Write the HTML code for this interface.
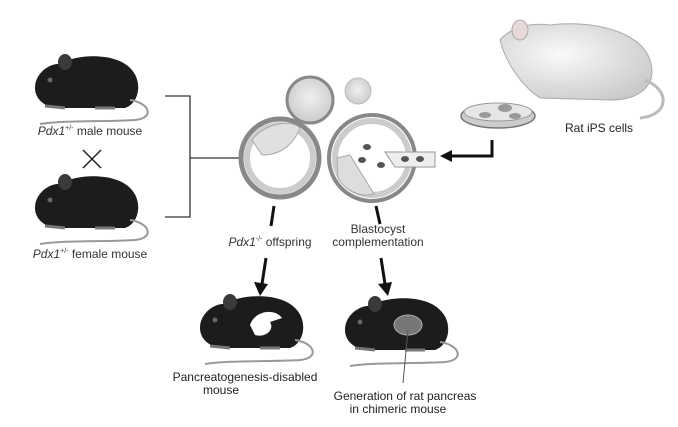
<!DOCTYPE html>
<html><head><style>
body{margin:0;background:#fff;}
svg{display:block;font-family:"Liberation Sans",sans-serif;}
</style></head><body>
<svg width="678" height="427" viewBox="0 0 678 427">
<defs>
<radialGradient id="cell" cx="50%" cy="45%" r="60%"><stop offset="0" stop-color="#f0f0f0"/><stop offset="1" stop-color="#c8c8c8"/></radialGradient>
<radialGradient id="rat" cx="40%" cy="40%" r="70%"><stop offset="0" stop-color="#fafafa"/><stop offset="1" stop-color="#c9c9c9"/></radialGradient>
<g id="mouse">
 <path d="M0,30 C0,15 15,5 25,6 C40,-4 80,-6 95,10 C108,22 105,45 90,50 L20,50 C8,48 0,40 0,30Z" fill="#1c1c1c"/>
 <ellipse cx="30" cy="4" rx="7" ry="8" fill="#3a3a3a"/>
 <circle cx="15" cy="22" r="2.5" fill="#666"/>
 <path d="M95,42 C115,45 120,60 100,62 C70,64 30,62 5,66" stroke="#999" stroke-width="2" fill="none"/>
 <path d="M10,48 L30,50 M60,50 L80,50" stroke="#777" stroke-width="3"/>
</g>
</defs>
<!-- parent mice -->
<use href="#mouse" x="35" y="58"/>
<use href="#mouse" x="35" y="178"/>
<text x="90" y="135" font-size="12" text-anchor="middle" fill="#333"><tspan font-style="italic">Pdx1</tspan><tspan font-size="7" dy="-5">+/-</tspan><tspan dy="5"> male mouse</tspan></text>
<text x="90" y="258" font-size="12" text-anchor="middle" fill="#333"><tspan font-style="italic">Pdx1</tspan><tspan font-size="7" dy="-5">+/-</tspan><tspan dy="5"> female mouse</tspan></text>
<path d="M83,150 L101,168 M101,150 L83,168" stroke="#222" stroke-width="1.5"/>
<path d="M165,96 L190,96 L190,217 L165,217 M190,158 L240,158" stroke="#333" stroke-width="1.3" fill="none"/>
<!-- small spheres -->
<circle cx="310" cy="100" r="23" fill="url(#cell)" stroke="#888" stroke-width="3"/>
<circle cx="358" cy="91" r="13" fill="url(#cell)" stroke="#bbb" stroke-width="1"/>
<!-- left blastocyst -->
<circle cx="280" cy="158" r="39" fill="#fff" stroke="#888" stroke-width="5"/>
<circle cx="280" cy="158" r="33" fill="none" stroke="#ccc" stroke-width="6"/>
<path d="M252,140 C262,125 290,118 300,128 C295,140 285,155 262,155 Z" fill="#e0e0e0" stroke="#aaa"/>
<!-- right blastocyst -->
<circle cx="372" cy="158" r="43" fill="#fff" stroke="#888" stroke-width="4"/>
<circle cx="372" cy="158" r="37" fill="none" stroke="#ccc" stroke-width="6"/>
<path d="M337,158 L350,155 L374,194 C360,198 345,190 338,178 Z" fill="#ddd" stroke="#aaa"/>
<ellipse cx="367" cy="147" rx="4" ry="3" fill="#555"/>
<ellipse cx="362" cy="160" rx="4" ry="3" fill="#555"/>
<ellipse cx="381" cy="165" rx="4" ry="3" fill="#555"/>
<path d="M385,152 L435,152 L435,167 L395,167 Z" fill="#eee" stroke="#999"/>
<ellipse cx="405" cy="159" rx="4" ry="3" fill="#555"/>
<ellipse cx="420" cy="159" rx="4" ry="3" fill="#555"/>
<!-- arrow from rat cells -->
<path d="M492,140 L492,156 L450,156" stroke="#111" stroke-width="3" fill="none"/>
<polygon points="440,156 452,150 452,162" fill="#111"/>
<!-- rat -->
<path d="M500,40 C510,28 530,22 550,25 C590,20 640,30 650,60 C658,85 640,100 610,100 L540,98 C520,85 505,60 500,40Z" fill="url(#rat)" stroke="#aaa"/>
<ellipse cx="520" cy="30" rx="8" ry="10" fill="#e8d8d8" stroke="#aaa"/>
<path d="M645,80 C670,90 670,115 640,118" stroke="#bbb" stroke-width="3" fill="none"/>
<ellipse cx="498" cy="116" rx="37" ry="12" fill="#ccc" stroke="#777" stroke-width="1.5"/>
<ellipse cx="498" cy="112" rx="34" ry="9" fill="#e6e6e6" stroke="#999"/>
<ellipse cx="505" cy="108" rx="7" ry="4" fill="#999"/>
<ellipse cx="485" cy="115" rx="6" ry="3" fill="#999"/>
<ellipse cx="515" cy="116" rx="6" ry="3" fill="#999"/>
<text x="565" y="132" font-size="12" fill="#222">Rat iPS cells</text>
<!-- labels -->
<text x="270" y="246" font-size="12" text-anchor="middle" fill="#333"><tspan font-style="italic">Pdx1</tspan><tspan font-size="7" dy="-5">-/-</tspan><tspan dy="5"> offspring</tspan></text>
<text x="378" y="233" font-size="12" text-anchor="middle" fill="#333">Blastocyst</text>
<text x="378" y="246" font-size="12" text-anchor="middle" fill="#333">complementation</text>
<!-- arrows down -->
<path d="M274,206 L271,226 M266,258 L262,284" stroke="#111" stroke-width="3"/>
<polygon points="260,296 254,282 268,284" fill="#111"/>
<path d="M376,206 L380,224 M381,258 L385,284" stroke="#111" stroke-width="3"/>
<polygon points="388,296 378,284 392,282" fill="#111"/>
<!-- bottom mice -->
<use href="#mouse" x="200" y="298"/>
<path d="M250,325 C255,310 275,308 282,318 L270,322 C275,330 265,338 255,335 Z" fill="#fff"/>
<use href="#mouse" x="345" y="300"/>
<ellipse cx="408" cy="325" rx="14" ry="10" fill="#777" stroke="#aaa"/>
<path d="M408,330 L403,383" stroke="#555" stroke-width="1"/>
<text x="245" y="381" font-size="12" text-anchor="middle" fill="#222">Pancreatogenesis-disabled</text>
<text x="221" y="394" font-size="12" text-anchor="middle" fill="#222">mouse</text>
<text x="405" y="400" font-size="12" text-anchor="middle" fill="#222">Generation of rat pancreas</text>
<text x="398" y="413" font-size="12" text-anchor="middle" fill="#222">in chimeric mouse</text>
</svg>
</body></html>
